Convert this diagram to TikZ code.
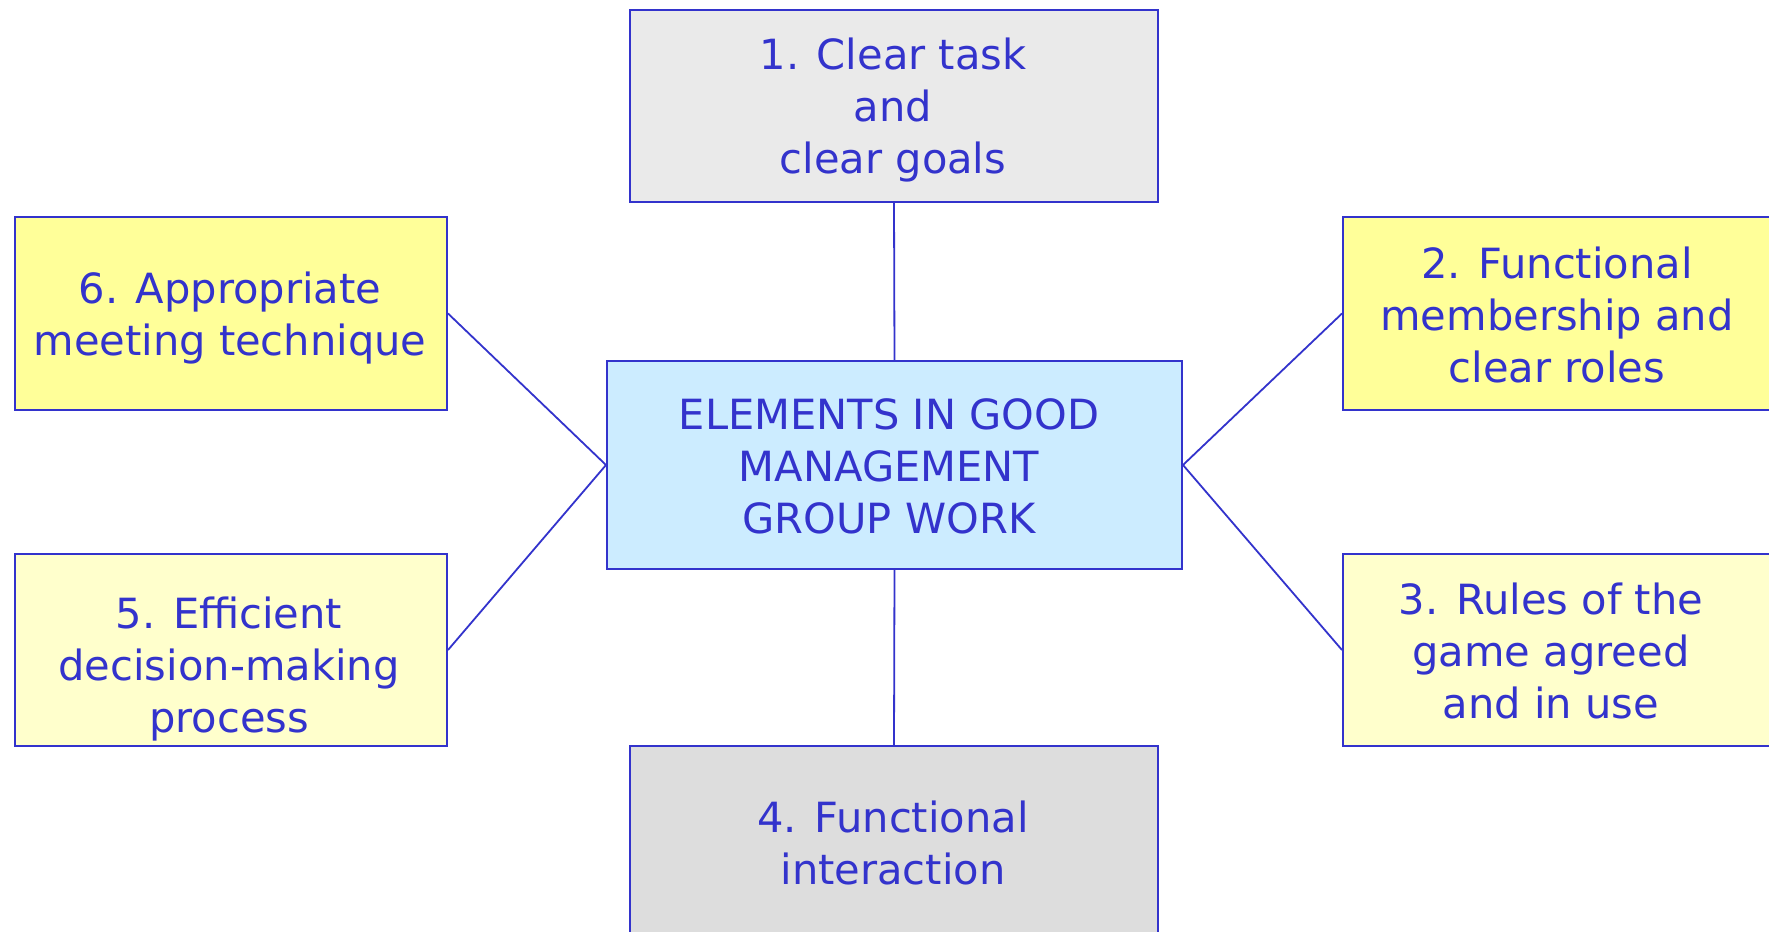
\documentclass[tikz,border=0pt]{standalone}
\usepackage{fontspec}
\setmainfont{DejaVu Sans}
\definecolor{lineblue}{HTML}{3333CC}
\definecolor{yel}{HTML}{FFFF99}
\definecolor{lyel}{HTML}{FFFFCC}
\definecolor{lblue}{HTML}{CCECFF}
\definecolor{gra}{HTML}{EAEAEA}
\definecolor{grb}{HTML}{DDDDDD}
\tikzset{
  boxshape/.style={draw=lineblue, line width=1pt, inner sep=0pt, rectangle},
  label txt/.style={text=lineblue, align=center, inner sep=0pt,
    font=\fontsize{20.8}{26}\selectfont},
  conn/.style={draw=lineblue, line width=0.9pt}
}
\begin{document}
\begin{tikzpicture}[x=0.5pt,y=-0.5pt]
\useasboundingbox (0,0) rectangle (1769,932);
\clip (0,0) rectangle (1769,932);
\fill[white] (0,0) rectangle (1769,932);
% boxes
\node[boxshape, fill=gra, minimum width=264pt, minimum height=96pt, anchor=north west] (b1) at (629,9) {};
\node[boxshape, fill=yel, minimum width=216.25pt, minimum height=96.5pt, anchor=north west] (b6) at (13.5,216) {};
\node[boxshape, fill=yel, minimum width=240pt, minimum height=96.5pt, anchor=north west] (b2) at (1342,216) {};
\node[boxshape, fill=lblue, minimum width=287.5pt, minimum height=104pt, anchor=north west] (c) at (606,360) {};
\node[boxshape, fill=lyel, minimum width=216.25pt, minimum height=96pt, anchor=north west] (b5) at (13.5,553) {};
\node[boxshape, fill=lyel, minimum width=240pt, minimum height=96pt, anchor=north west] (b3) at (1342,553) {};
\node[boxshape, fill=grb, minimum width=264pt, minimum height=120pt, anchor=north west] (b4) at (629,745) {};
% texts
\node[label txt] (t1) at (893,110) {1. Clear task\\ and\\ clear goals};
\node[label txt] (t6) at (230,318) {6. Appropriate\\ meeting technique};
\node[label txt] (t2) at (1557,315) {2. Functional\\ membership and\\ clear roles};
\node[label txt] (tc) at (889,466) {ELEMENTS IN GOOD\\ MANAGEMENT\\ GROUP WORK};
\node[label txt] (t5) at (229,669) {5. Efficient\\ decision-making\\ process};
\node[label txt] (t3) at (1551,651) {3. Rules of the\\ game agreed\\ and in use};
\node[label txt] (t4) at (893,843) {4. Functional\\ interaction};
% connectors
\draw[conn] (b1.south) -- (c.north);
\draw[conn] (b6.east) -- (c.west);
\draw[conn] (b5.east) -- (c.west);
\draw[conn] (b2.west) -- (c.east);
\draw[conn] (b3.west) -- (c.east);
\draw[conn] (c.south) -- (b4.north);
\end{tikzpicture}
\end{document}
